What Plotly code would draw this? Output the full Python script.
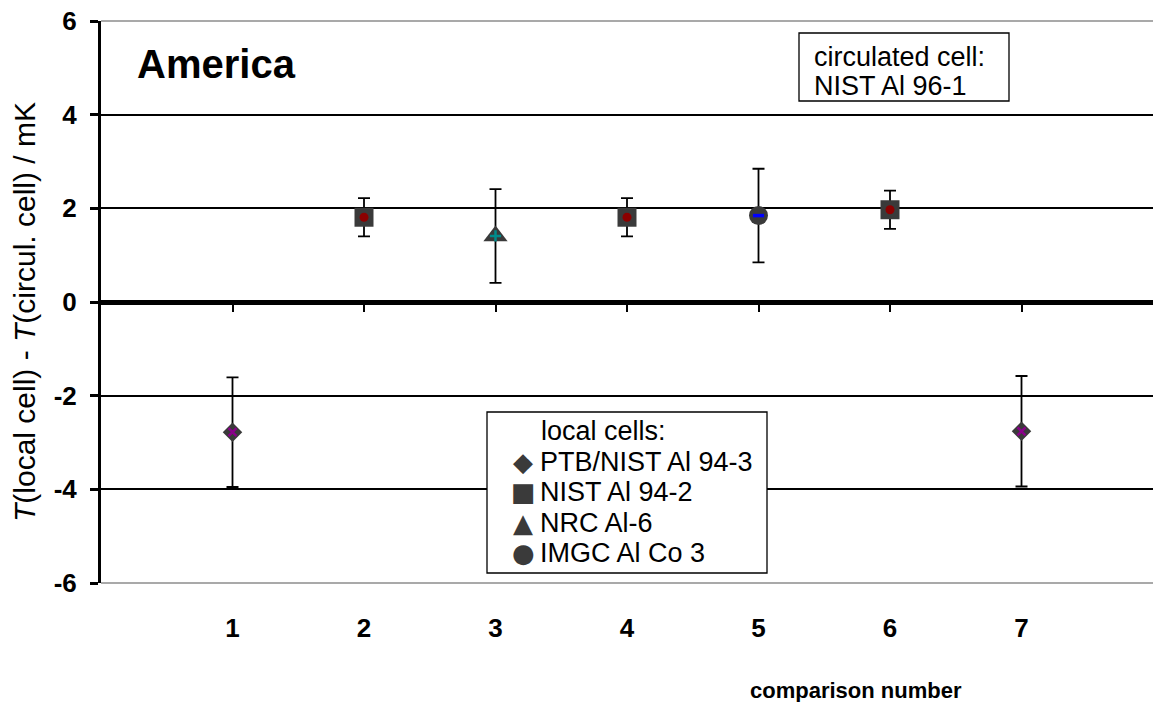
import plotly.graph_objects as go

# ---- data ----
comparison = [1, 2, 3, 4, 5, 6, 7]
tick_text = ["1", "2", "3", "4", "5", "6", "7"]
y_ticks = [-6, -4, -2, 0, 2, 4, 6]
y_tick_text = ["-6", "-4", "-2", "0", "2", "4", "6"]
grid_inner = [-4, -2, 2, 4]

ptb_x = [1, 7]
ptb_y = [-2.78, -2.76]
ptb_err = [1.17, 1.18]

nist_x = [2, 4, 6]
nist_y = [1.81, 1.81, 1.97]
nist_err = [0.41, 0.41, 0.41]

nrc_x = [3]
nrc_y = [1.41]
nrc_err = [1.0]

imgc_x = [5]
imgc_y = [1.845]
imgc_err = [1.0]

legend_title = "local cells:"
legend_names = ["PTB/NIST Al 94-3", "NIST Al 94-2", "NRC Al-6", "IMGC Al Co 3"]
legend_glyphs = ["\u25c6", "\u25a0", "\u25b2", "\u25cf"]
circ_lines = ["circulated cell:", "NIST Al 96-1"]

FONT = "Arial, Liberation Sans, sans-serif"
MK = "#3a3a3a"

# plot-area geometry in screen pixels
W, H = 1153, 702
PL, PR, PT, PB = 101, 1153, 21, 583


def px(sx):
    return (sx - PL) / (PR - PL)


def py(sy):
    return (PB - sy) / (PB - PT)


fig = go.Figure()

series = [
    (legend_names[0], ptb_x, ptb_y, ptb_err, "diamond", 15, "x-thin", "#8a008a", 2.5),
    (legend_names[1], nist_x, nist_y, nist_err, "square", 19, "circle", "#8b0000", 0),
    (legend_names[2], nrc_x, nrc_y, nrc_err, "triangle-up", 21, "cross-thin", "#008b8b", 2.5),
    (legend_names[3], imgc_x, imgc_y, imgc_err, "circle", 19, "line-ew", "#0000ff", 3.5),
]

for name, xs, ys, es, sym, size, isym, icol, iw in series:
    fig.add_trace(go.Scatter(
        x=xs, y=ys, mode="markers", name=name,
        marker=dict(symbol=sym, size=size, color=MK, line=dict(width=0)),
        error_y=dict(type="data", array=es, visible=True, color="black",
                     thickness=1.8, width=6),
        showlegend=False,
    ))
for name, xs, ys, es, sym, size, isym, icol, iw in series:
    inner = dict(symbol=isym, size=8 if isym != "circle" else 9, color=icol,
                 line=dict(width=iw, color=icol))
    fig.add_trace(go.Scatter(x=xs, y=ys, mode="markers", marker=inner,
                             showlegend=False, hoverinfo="skip"))

# invisible trace to anchor overlay axes
fig.add_trace(go.Scatter(x=[comparison[0]], y=[0], xaxis="x2", yaxis="y2",
                         mode="markers", marker=dict(opacity=0),
                         showlegend=False, hoverinfo="skip"))

fig.update_layout(
    width=W, height=H,
    margin=dict(l=PL, r=W - PR, t=PT, b=H - PB),
    paper_bgcolor="white", plot_bgcolor="white",
    font=dict(family=FONT, color="black"),
    showlegend=False,
    xaxis=dict(range=[0, 8], anchor="free", position=0.5,
               tickvals=comparison, showticklabels=False,
               ticks="outside", ticklen=7, tickwidth=2, tickcolor="black",
               showline=True, linewidth=4.5, linecolor="black",
               showgrid=False, zeroline=False),
    xaxis2=dict(range=[0, 8], overlaying="x", anchor="y", side="bottom",
                tickvals=comparison, ticktext=tick_text,
                tickfont=dict(size=26, family=FONT, color="black", weight="bold"),
                ticks="", showline=False, showgrid=False, zeroline=False,
                ticklabelstandoff=27),
    yaxis=dict(range=[-6, 6], tickvals=y_ticks, ticktext=y_tick_text,
               tickfont=dict(size=26, family=FONT, color="black", weight="bold"),
               ticks="outside", ticklen=8, tickwidth=2.5, tickcolor="black",
               showline=True, linewidth=3, linecolor="black",
               showgrid=True, gridcolor="#8c8c8c", gridwidth=1.2,
               zeroline=False, ticklabelstandoff=8, ticklabeloverflow="allow"),
    yaxis2=dict(range=[-6, 6], overlaying="y", anchor="x", tickvals=grid_inner,
                showticklabels=False, ticks="", showline=False,
                showgrid=True, gridcolor="black", gridwidth=1.5, zeroline=False),
)

# thin grey frame lines at top and bottom of the plot area
for yy in (0, 1):
    fig.add_shape(type="line", xref="paper", yref="paper", x0=0, x1=1, y0=yy, y1=yy,
                  line=dict(color="#8c8c8c", width=1.6), layer="below")

# "America"
fig.add_annotation(text="America", xref="paper", yref="paper",
                   x=px(135), y=py(64), xanchor="left", yanchor="middle",
                   showarrow=False,
                   font=dict(size=40, family=FONT, color="black", weight="bold"))

# circulated cell box
fig.add_shape(type="rect", xref="paper", yref="paper",
              x0=px(799), x1=px(1009), y0=py(101), y1=py(33),
              line=dict(color="black", width=1.3), fillcolor="white", layer="above")
for line_text, sy in zip(circ_lines, [57, 86]):
    fig.add_annotation(text=line_text, xref="paper", yref="paper",
                       x=px(812), y=py(sy), xanchor="left", yanchor="middle",
                       showarrow=False,
                       font=dict(size=27, family=FONT, color="black"))

# legend box (local cells)
fig.add_shape(type="rect", xref="paper", yref="paper",
              x0=px(487), x1=px(767), y0=py(573), y1=py(412),
              line=dict(color="black", width=1.3), fillcolor="white", layer="above")
row_y = [431, 461.5, 492, 522.5, 553]
fig.add_annotation(text=legend_title, xref="paper", yref="paper",
                   x=px(539), y=py(row_y[0]), xanchor="left", yanchor="middle",
                   showarrow=False, font=dict(size=27, family=FONT, color="black"))
for name, glyph, sy in zip(legend_names, legend_glyphs, row_y[1:]):
    fig.add_annotation(text=glyph, xref="paper", yref="paper",
                       x=px(523), y=py(sy), xanchor="center", yanchor="middle",
                       showarrow=False,
                       font=dict(size=26, family="DejaVu Sans", color=MK))
    fig.add_annotation(text=name, xref="paper", yref="paper",
                       x=px(538), y=py(sy), xanchor="left", yanchor="middle",
                       showarrow=False, font=dict(size=27, family=FONT, color="black"))

# axis titles
fig.add_annotation(text="comparison number", xref="paper", yref="paper",
                   x=px(856), y=py(690), xanchor="center", yanchor="middle",
                   showarrow=False,
                   font=dict(size=22, family=FONT, color="black", weight="bold"))

fig.add_annotation(text="<i>T</i>(local cell) - <i>T</i>(circul. cell) / mK",
                   xref="paper", yref="paper", x=px(24), y=py(312),
                   xanchor="center", yanchor="middle", textangle=-90,
                   showarrow=False,
                   font=dict(size=30, family=FONT, color="black"))

fig.write_html(
    "out.html",
    config={"displayModeBar": False},
    post_script="document.body.style.margin='0';document.body.style.overflow='hidden';",
)
